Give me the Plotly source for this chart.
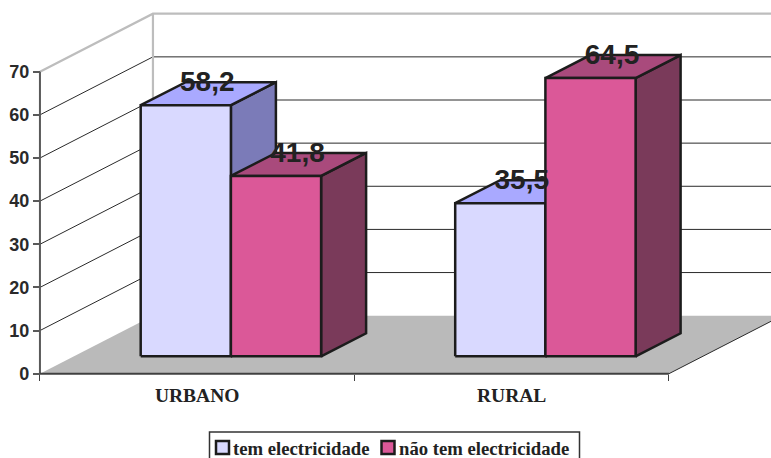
import plotly.graph_objects as go

categories = ["URBANO", "RURAL"]
tem_electricidade = [58.2, 35.5]
nao_tem_electricidade = [41.8, 64.5]
y_ticks = [0, 10, 20, 30, 40, 50, 60, 70]
series_names = ["tem electricidade", "não tem electricidade"]

W, H = 771, 458
X_PER_CAT, Y_PER_UNIT = 314.5, 4.314
X0_PX, Y0_PX = 197.2, 373.7
WALL_DX, WALL_DY = 113 / X_PER_CAT, 58 / Y_PER_UNIT
BAR_W = 90.2 / X_PER_CAT
BAR_DX, BAR_DY = 45 / X_PER_CAT, 23 / Y_PER_UNIT
BASE = 17.4 / Y_PER_UNIT
OFF = 33.7 / X_PER_CAT
XL, XR = -0.5, 1.5
YMAX = y_ticks[-1]
FAR = XR + WALL_DX
EDGE = "#1c1c1c"
STYLE = [
    dict(front="#D9D9FF", top="#A9A9FF", side="#7B7BB8"),
    dict(front="#DB5898", top="#A94A7C", side="#7A3A5A"),
]
SERIES = [tem_electricidade, nao_tem_electricidade]

fig = go.Figure()


def poly(xs, ys, fill, line=None, width=2):
    fig.add_trace(go.Scatter(
        x=xs, y=ys, mode="lines", fill="toself", fillcolor=fill,
        line=dict(color=line or fill, width=width if line else 0),
        showlegend=False, hoverinfo="skip"))


def path(xs, ys, color, width):
    fig.add_trace(go.Scatter(
        x=xs, y=ys, mode="lines", line=dict(color=color, width=width),
        showlegend=False, hoverinfo="skip"))


# floor
poly([XL, XL + WALL_DX, FAR, XR], [0, WALL_DY, WALL_DY, 0], "#BABABA")

# gridlines
for v in y_ticks[1:-1]:
    path([XL, XL + WALL_DX, FAR], [v, v + WALL_DY, v + WALL_DY], "#2a2a2a", 1)

# wall outer edges
path([XL, XL + WALL_DX, FAR], [YMAX, YMAX + WALL_DY, YMAX + WALL_DY], "#BDBDBD", 2.2)
path([XL + WALL_DX, XL + WALL_DX], [WALL_DY, YMAX + WALL_DY], "#BDBDBD", 2.2)

# axes lines
path([XL, XL], [0, YMAX], "#595959", 2)
path([XL, XR], [0, 0], "#404040", 2)
path([XR, XR + WALL_DX], [0, WALL_DY], "#2a2a2a", 1)

# bars
label_x, label_y, label_t = [], [], []
for c in range(len(categories)):
    for s, vals in enumerate(SERIES):
        v = vals[c]
        st = STYLE[s]
        x0 = c + OFF + (s - 1) * BAR_W
        x1 = x0 + BAR_W
        y0, y1 = BASE, BASE + v
        poly([x1, x1 + BAR_DX, x1 + BAR_DX, x1, x1],
             [y0, y0 + BAR_DY, y1 + BAR_DY, y1, y0], st["side"], EDGE, 2.5)
        poly([x0, x0 + BAR_DX, x1 + BAR_DX, x1, x0],
             [y1, y1 + BAR_DY, y1 + BAR_DY, y1, y1], st["top"], EDGE, 2.5)
        poly([x0, x1, x1, x0, x0], [y0, y0, y1, y1, y0], st["front"], EDGE, 2.5)
        label_x.append((x0 + x1) / 2 + BAR_DX / 2 - 1 / X_PER_CAT)
        label_y.append(y1 + BAR_DY - 2 / Y_PER_UNIT)
        label_t.append(f"{v:.1f}".replace(".", ","))

fig.add_trace(go.Scatter(
    x=label_x, y=label_y, text=label_t, mode="text", textposition="middle center",
    textfont=dict(family="Liberation Sans", size=28, color="#222222", weight="bold"),
    showlegend=False, hoverinfo="skip"))

# legend
def px(x):
    return x / W


def py(y):
    return 1 - y / H


shapes = [dict(type="rect", xref="paper", yref="paper", x0=px(209.5), x1=px(579.5),
               y0=py(470), y1=py(432), line=dict(color="#333333", width=1.5),
               fillcolor="white")]
annotations = []
for name, st, sx, tx in zip(series_names, STYLE, (216, 381.5), (231, 397)):
    shapes.append(dict(type="rect", xref="paper", yref="paper", x0=px(sx), x1=px(sx + 13),
                       y0=py(454), y1=py(441), line=dict(color=EDGE, width=2.5),
                       fillcolor=st["front"]))
    annotations.append(dict(xref="paper", yref="paper", x=px(tx), y=py(448), text=f"<b>{name}</b>",
                            showarrow=False, xanchor="left", yanchor="middle",
                            font=dict(family="Liberation Serif", size=18.7, color="#222222")))

fig.update_layout(
    width=W, height=H, margin=dict(l=0, r=0, t=0, b=0, pad=0),
    paper_bgcolor="white", plot_bgcolor="white", showlegend=False,
    shapes=shapes, annotations=annotations,
    xaxis=dict(
        range=[-X0_PX / X_PER_CAT, (W - X0_PX) / X_PER_CAT], domain=[0, 1],
        anchor="free", position=(H - Y0_PX) / H, showgrid=False, zeroline=False, showline=False,
        tickmode="array", tickvals=list(range(len(categories))), ticktext=categories,
        ticks="", ticklabelstandoff=8,
        tickfont=dict(family="Liberation Serif", size=19.5, color="#222222", weight="bold"),
        minor=dict(tickmode="array", tickvals=[XL, 0.5, XR], ticks="outside", ticklen=6,
                   tickcolor="#404040", tickwidth=1, showgrid=False),
    ),
    yaxis=dict(
        range=[(Y0_PX - H) / Y_PER_UNIT, Y0_PX / Y_PER_UNIT], domain=[0, 1],
        anchor="free", position=(X0_PX - 0.5 * X_PER_CAT) / W, showgrid=False, zeroline=False,
        showline=False, tickmode="array", tickvals=y_ticks,
        ticks="outside", ticklen=7, tickcolor="#595959", tickwidth=1.5,
        tickfont=dict(family="Liberation Sans", size=18, color="#2a2a2a", weight="bold"),
    ),
)

fig.write_html("out.html", config=dict(displayModeBar=False),
               post_script="document.body.style.margin='0';document.body.style.overflow='hidden';")
